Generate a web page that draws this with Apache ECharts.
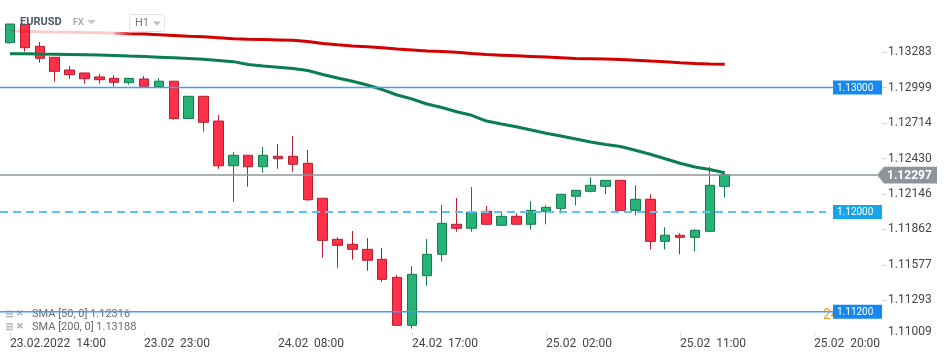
<!DOCTYPE html>
<html><head><meta charset="utf-8">
<script src="https://cdn.jsdelivr.net/npm/echarts@6/dist/echarts.min.js"></script>
<style>html,body{margin:0;padding:0;background:#fff}#c{width:950px;height:360px}</style>
</head><body><div id="c"></div>
<script>
// ---- data ----
const categories = [
 '23.02 14:00','23.02 15:00','23.02 16:00','23.02 17:00','23.02 18:00','23.02 19:00','23.02 20:00','23.02 21:00','23.02 22:00','23.02 23:00',
 '24.02 00:00','24.02 01:00','24.02 02:00','24.02 03:00','24.02 04:00','24.02 05:00','24.02 06:00','24.02 07:00','24.02 08:00','24.02 09:00',
 '24.02 10:00','24.02 11:00','24.02 12:00','24.02 13:00','24.02 14:00','24.02 15:00','24.02 16:00','24.02 17:00','24.02 18:00','24.02 19:00',
 '24.02 20:00','24.02 21:00','24.02 22:00','24.02 23:00',
 '25.02 00:00','25.02 01:00','25.02 02:00','25.02 03:00','25.02 04:00','25.02 05:00','25.02 06:00','25.02 07:00','25.02 08:00','25.02 09:00',
 '25.02 10:00','25.02 11:00','25.02 12:00','25.02 13:00','25.02 14:00','25.02 15:00','25.02 16:00','25.02 17:00','25.02 18:00','25.02 19:00',
 '25.02 20:00','25.02 21:00'
];
const firstXLabel = '23.02.2022  14:00';
const xLabelEvery = 9;

const opens  = [1.13360,1.13508,1.13331,1.13243,1.13141,1.13117,1.13085,1.13074,1.13039,1.13069,
                1.13007,1.13051,1.12751,1.12930,1.12731,1.12372,1.12456,1.12364,1.12448,1.12448,
                1.12392,1.12111,1.11781,1.11741,1.11701,1.11621,1.11476,1.11091,1.11489,1.11661,
                1.11902,1.11870,1.12006,1.11894,1.11966,1.11902,1.12006,1.12030,1.12127,1.12167,
                1.12207,1.12255,1.12014,1.12103,1.11765,1.11814,1.11797,1.11846,1.12207];
const closes = [1.13510,1.13320,1.13235,1.13130,1.13103,1.13071,1.13063,1.13042,1.13074,1.13010,
                1.13051,1.12751,1.12930,1.12721,1.12372,1.12456,1.12364,1.12456,1.12429,1.12384,
                1.12099,1.11773,1.11733,1.11701,1.11613,1.11460,1.11091,1.11500,1.11661,1.11910,
                1.11870,1.11998,1.11902,1.11966,1.11902,1.12014,1.12038,1.12143,1.12175,1.12215,
                1.12255,1.12014,1.12103,1.11765,1.11814,1.11797,1.11854,1.12215,1.12300];
const lows   = [1.13352,1.13288,1.13200,1.13047,1.13069,1.13031,1.13031,1.13007,1.13023,1.13008,
                1.12996,1.12742,1.12749,1.12645,1.12348,1.12083,1.12204,1.12316,1.12348,1.12324,
                1.12091,1.11634,1.11553,1.11618,1.11529,1.11441,1.11089,1.11064,1.11409,1.11602,
                1.11842,1.11842,1.11900,1.11892,1.11900,1.11859,1.11902,1.11990,1.12054,1.12159,
                1.12143,1.12012,1.11974,1.11701,1.11701,1.11661,1.11685,1.11838,1.12119];
const highs  = [1.13512,1.13510,1.13366,1.13245,1.13173,1.13119,1.13109,1.13098,1.13076,1.13093,
                1.13076,1.13053,1.12932,1.12932,1.12780,1.12482,1.12458,1.12523,1.12547,1.12611,
                1.12499,1.12113,1.11797,1.11848,1.11792,1.11712,1.11495,1.11567,1.11784,1.12057,
                1.12113,1.12201,1.12049,1.12006,1.11990,1.12087,1.12054,1.12145,1.12177,1.12279,
                1.12257,1.12257,1.12215,1.12143,1.11878,1.11830,1.11862,1.12364,1.12312];

const sma50  = [1.13272,1.13271,1.13269,1.13268,1.13266,1.13264,1.13261,1.13258,1.13253,1.13249,
                1.13244,1.13239,1.13233,1.13227,1.13218,1.13208,1.13185,1.13173,1.13163,1.13153,
                1.13137,1.13105,1.13077,1.13051,1.13020,1.12984,1.12940,1.12908,1.12868,1.12840,
                1.12806,1.12777,1.12731,1.12707,1.12685,1.12659,1.12633,1.12611,1.12587,1.12563,
                1.12543,1.12527,1.12496,1.12464,1.12428,1.12392,1.12362,1.12342,1.12316];
const sma200 = [1.13457,1.13453,1.13449,1.13446,1.13444,1.13442,1.13441,1.13437,1.13432,1.13429,
                1.13424,1.13418,1.13412,1.13407,1.13400,1.13392,1.13387,1.13385,1.13382,1.13379,
                1.13370,1.13354,1.13343,1.13334,1.13328,1.13319,1.13310,1.13302,1.13293,1.13289,
                1.13283,1.13273,1.13265,1.13260,1.13255,1.13250,1.13245,1.13240,1.13233,1.13231,
                1.13229,1.13226,1.13220,1.13213,1.13207,1.13199,1.13194,1.13190,1.13188];
const sma200FadedUntil = 8;   // index where the faded start of the SMA200 ends

const yTickLabels = ['1.11009','1.11293','1.11577','1.11862','1.12146','1.12430','1.12714','1.12999','1.13283'];
const yMin = 1.11009, yMax = 1.13703;
const levels = [1.13000, 1.12000, 1.11200];
const levelDashed = [false, true, false];
const lastPrice = 1.12297;
const legendTexts = ['SMA [50, 0] 1.12316', 'SMA [200, 0] 1.13188'];
const symbolName = 'EURUSD', marketName = 'FX', periodName = 'H1';

// ---- chart ----
const FONT = 'Roboto, "Noto Sans", sans-serif';
const chart = echarts.init(document.getElementById('c'), null, {renderer: 'canvas'});
const BAR = 14.89;
const gridLeft = 2.55;
const gridWidth = categories.length * BAR;
const gridRight = gridLeft + gridWidth;
const candles = opens.map((o, i) => [o, closes[i], lows[i], highs[i]]);
const yTickValues = yTickLabels.map(Number);
const TAG_X = 833, TAG_W = 49;
const grey = '#8c959b';

function renderLevel(params, api) {
  const v = api.value(1);
  const y = api.coord([0, v])[1];
  const dashed = levelDashed[params.dataIndex];
  return {type: 'group', children: [
    {type: 'line', shape: {x1: 0, y1: y, x2: dashed ? 826 : TAG_X, y2: y},
     style: {stroke: dashed ? '#5cc2f7' : '#3d9ff5', lineWidth: dashed ? 2 : 1.4, lineDash: dashed ? [8, 5] : null}},
    {type: 'rect', shape: {x: TAG_X, y: y - 7, width: TAG_W, height: 14},
     style: {fill: dashed ? '#16a6eb' : '#1689f0'}},
    {type: 'text', style: {x: TAG_X + 4, y: y + 0.5, text: v.toFixed(5), fill: '#fff', font: '10px ' + FONT, verticalAlign: 'middle'}}
  ]};
}
function renderLast(params, api) {
  const v = api.value(1);
  const y = api.coord([0, v])[1];
  return {type: 'group', children: [
    {type: 'line', shape: {x1: 0, y1: y, x2: 877, y2: y}, style: {stroke: grey, lineWidth: 1.5}},
    {type: 'polygon', shape: {points: [[877, y], [884, y - 8.3], [937, y - 8.3], [937, y + 8.3], [884, y + 8.3]]}, style: {fill: grey}},
    {type: 'text', style: {x: 887, y: y + 0.5, text: v.toFixed(5), fill: '#fff', font: 'bold 12px ' + FONT, verticalAlign: 'middle'}}
  ]};
}

chart.setOption({
  animation: false,
  grid: {left: gridLeft, top: 0, width: gridWidth, height: 335.5},
  xAxis: {
    type: 'category', data: categories, boundaryGap: true,
    axisLine: {show: false},
    axisTick: {show: true, inside: true, length: 3, alignWithLabel: true,
      interval: (i) => i % xLabelEvery === 0, lineStyle: {color: '#d5d5d5'}},
    axisLabel: {interval: (i) => i % xLabelEvery === 0, align: 'left', margin: 2,
      fontSize: 12, color: '#454545', fontFamily: FONT,
      formatter: (v, i) => i === 0 ? firstXLabel : v.replace(' ', '  ')},
    splitLine: {show: false}
  },
  yAxis: {
    type: 'value', position: 'right', offset: 882 - gridRight, min: yMin, max: yMax,
    axisLine: {show: false},
    axisTick: {show: true, length: 5, lineStyle: {color: '#d5d5d5'}, customValues: yTickValues.slice(1)},
    axisLabel: {customValues: yTickValues, margin: 6, fontSize: 12, color: '#454545', fontFamily: FONT,
      formatter: (v) => {
        const s = v.toFixed(5);
        return v === yTickValues[0] ? '{lo|' + s + '}' : s;
      },
      rich: {lo: {fontSize: 12, color: '#454545', fontFamily: FONT, padding: [0, 0, 8, 0]}}},
    splitLine: {show: false}
  },
  series: [
    {type: 'candlestick', data: candles, barWidth: 10, z: 2,
     itemStyle: {color: '#27b377', color0: '#ff3148', borderColor: '#177a4e', borderColor0: '#b51d30', borderWidth: 1}},
    {type: 'line', data: sma50, showSymbol: false, z: 3, silent: true,
     lineStyle: {color: '#0b7d4e', width: 3}},
    {type: 'line', data: sma200.map((v, i) => i <= sma200FadedUntil ? v : null), showSymbol: false, z: 3, silent: true,
     lineStyle: {color: 'rgba(214,0,0,0.2)', width: 3}},
    {type: 'line', data: sma200.map((v, i) => i >= sma200FadedUntil - 1 ? v : null), showSymbol: false, z: 3, silent: true,
     lineStyle: {width: 3, color: new echarts.graphic.LinearGradient(0, 0, 950, 0, [
       {offset: 0, color: 'rgba(214,0,0,0.2)'},
       {offset: 0.122, color: 'rgba(214,0,0,0.25)'},
       {offset: 0.14, color: '#d20000'},
       {offset: 1, color: '#d20000'}], true)}},
    {type: 'custom', data: levels.map(v => [0, v]), encode: {x: 0, y: 1}, renderItem: renderLevel,
     clip: false, silent: true, z: 6},
    {type: 'custom', data: [[0, lastPrice]], encode: {x: 0, y: 1}, renderItem: renderLast,
     clip: false, silent: true, z: 8}
  ]
});

const yLow = chart.convertToPixel({yAxisIndex: 0}, levels[2]);
chart.setOption({
  graphic: [
    // header
    {type: 'text', left: 20, top: 17, z: 20, style: {text: symbolName, font: 'bold 11px ' + FONT, fill: '#4f5962'}},
    {type: 'text', left: 73, top: 18.5, z: 20, style: {text: marketName, font: 'bold 9px ' + FONT, fill: '#a3abb3'}},
    {type: 'polygon', z: 20, shape: {points: [[87, 20], [96, 20], [91.5, 24.5]]}, style: {fill: '#c7cbcf'}},
    {type: 'rect', z: 20, shape: {x: 129.5, y: 14.5, width: 35, height: 17, r: 3}, style: {fill: 'rgba(255,255,255,0.6)', stroke: '#e0e0e0', lineWidth: 1}},
    {type: 'text', left: 135, top: 17.5, z: 21, style: {text: periodName, font: '11px ' + FONT, fill: '#7a7a7a'}},
    {type: 'polygon', z: 21, shape: {points: [[153, 21.5], [161, 21.5], [157, 25.5]]}, style: {fill: '#b9bdc1'}},
    // orange marker partly hidden by level tag
    {type: 'text', z: 0, x: 823, y: yLow + 3.5, style: {text: '24', font: '14px ' + FONT, fill: '#ff9a1f', verticalAlign: 'middle'}},
    // indicator legend
    {type: 'group', z: 20, children: [0, 1].map(r => ({
      type: 'group', x: 0, y: 314 + r * 12.7, children: [
        {type: 'rect', shape: {x: 6, y: -3.5, width: 7, height: 1.6}, style: {fill: '#b8b8b8'}},
        {type: 'rect', shape: {x: 6, y: -0.8, width: 7, height: 1.6}, style: {fill: '#b8b8b8'}},
        {type: 'rect', shape: {x: 6, y: 1.9, width: 7, height: 1.6}, style: {fill: '#b8b8b8'}},
        {type: 'text', x: 16, y: 0, style: {text: '✖', font: '9px "DejaVu Sans"', fill: '#b8b8b8', verticalAlign: 'middle'}},
        {type: 'text', x: 32, y: 0.5, style: {text: legendTexts[r], font: '11px ' + FONT, fill: '#6b6b6b', verticalAlign: 'middle'}}
      ]}))}
  ]
});
</script></body></html>
